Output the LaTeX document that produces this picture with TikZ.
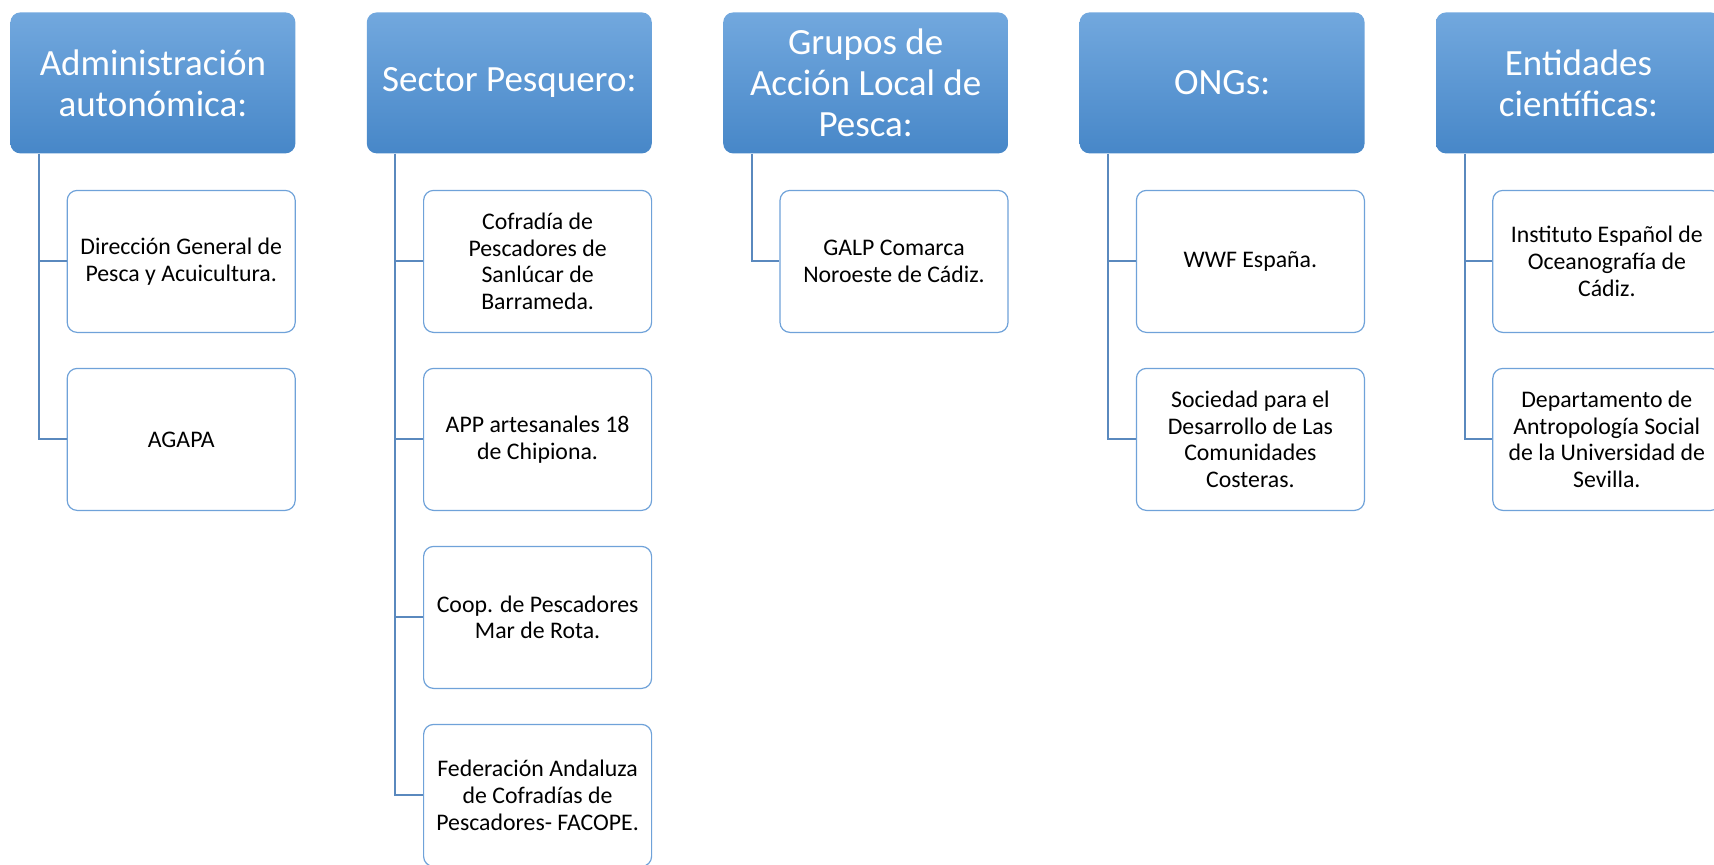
\documentclass[tikz,border=0pt]{standalone}
\usepackage{fontspec}
\setmainfont{Carlito}
\usetikzlibrary{positioning}
\definecolor{HeadTop}{HTML}{72A8DE}
\definecolor{HeadBottom}{HTML}{4787C8}
\definecolor{ItemBlue}{HTML}{6FA2D9}
\definecolor{LinkBlue}{HTML}{5A89BE}

\begin{document}
\begin{tikzpicture}[node distance=35.3pt, auto,
        head/.style={rectangle, rounded corners=5pt, top color=HeadTop, bottom color=HeadBottom, text=white, minimum width=142.5pt, minimum height=70.5pt, align=center, inner sep=2pt, font=\fontsize{18.5}{20.5}\selectfont},
        item/.style={rectangle, draw=ItemBlue, line width=0.6pt, rounded corners=5pt, fill=white, minimum width=114pt, minimum height=71pt, align=center, inner sep=2pt, font=\fontsize{11.9}{13.3}\selectfont},
        link/.style={draw=LinkBlue, line width=1pt}]

        \useasboundingbox (0,0) rectangle (857pt,-432pt);

        \node[head, anchor=north west] (adm) at (5pt,-6pt) {Administración\\autonómica:};
        \node[head, right=of adm] (sec) {Sector Pesquero:};
        \node[head, right=of sec] (galp) {Grupos de\\Acción Local de\\Pesca:};
        \node[head, right=of galp] (ong) {ONGs:};
        \node[head, right=of ong] (cie) {Entidades\\científicas:};

        \node[item, below=18pt of adm.south east, anchor=north east] (adm1) {Dirección General de\\Pesca y Acuicultura.};
        \node[item, below=17.4pt of adm1] (adm2) {AGAPA};

        \node[item, below=18pt of sec.south east, anchor=north east] (sec1) {Cofradía de\\Pescadores de\\Sanlúcar de\\Barrameda.};
        \node[item, below=17.4pt of sec1] (sec2) {APP artesanales 18\\de Chipiona.};
        \node[item, below=17.4pt of sec2] (sec3) {Coop. de Pescadores\\Mar de Rota.};
        \node[item, below=17.4pt of sec3] (sec4) {Federación Andaluza\\de Cofradías de\\Pescadores- FACOPE.};

        \node[item, below=18pt of galp.south east, anchor=north east] (galp1) {GALP Comarca\\Noroeste de Cádiz.};

        \node[item, below=18pt of ong.south east, anchor=north east] (ong1) {WWF España.};
        \node[item, below=17.4pt of ong1] (ong2) {Sociedad para el\\Desarrollo de Las\\Comunidades\\Costeras.};

        \node[item, below=18pt of cie.south east, anchor=north east] (cie1) {Instituto Español de\\Oceanografía de\\Cádiz.};
        \node[item, below=17.4pt of cie1] (cie2) {Departamento de\\Antropología Social\\de la Universidad de\\Sevilla.};

        \draw[link] ([xshift=14.5pt]adm.south west) |- (adm1.west);
        \draw[link] ([xshift=14.5pt]adm.south west) |- (adm2.west);
        \draw[link] ([xshift=14.5pt]sec.south west) |- (sec1.west);
        \draw[link] ([xshift=14.5pt]sec.south west) |- (sec2.west);
        \draw[link] ([xshift=14.5pt]sec.south west) |- (sec3.west);
        \draw[link] ([xshift=14.5pt]sec.south west) |- (sec4.west);
        \draw[link] ([xshift=14.5pt]galp.south west) |- (galp1.west);
        \draw[link] ([xshift=14.5pt]ong.south west) |- (ong1.west);
        \draw[link] ([xshift=14.5pt]ong.south west) |- (ong2.west);
        \draw[link] ([xshift=14.5pt]cie.south west) |- (cie1.west);
        \draw[link] ([xshift=14.5pt]cie.south west) |- (cie2.west);
    \end{tikzpicture}
\end{document}
